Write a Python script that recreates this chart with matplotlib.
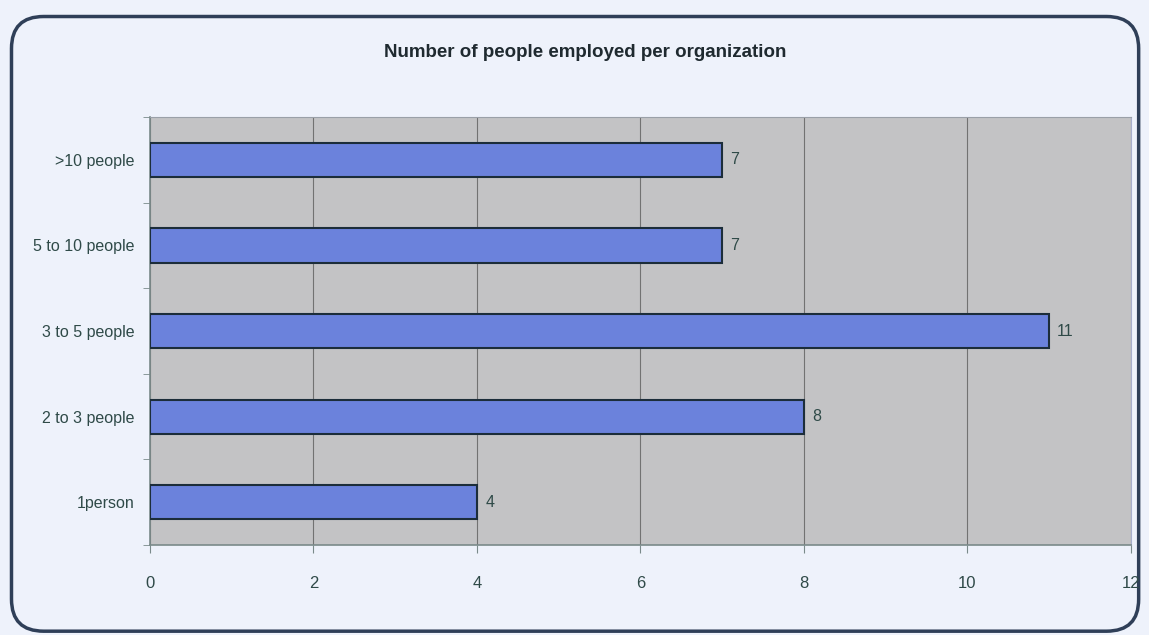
import matplotlib.pyplot as plt
from matplotlib.patches import FancyBboxPatch

categories = ["1person", "2 to 3 people", "3 to 5 people", "5 to 10 people", ">10 people"]
counts = [4, 8, 11, 7, 7]
x_ticks = [0, 2, 4, 6, 8, 10, 12]

plt.rcParams["font.family"] = ["Liberation Sans", "DejaVu Sans"]

fig = plt.figure(figsize=(11.49, 6.35), dpi=100)
fig.patch.set_facecolor("#eef2fb")

# rounded frame around the chart, kept behind the axes
frame = FancyBboxPatch((0.010, 0.006), 0.981, 0.968,
                       boxstyle="round,pad=0,rounding_size=0.028",
                       transform=fig.transFigure, facecolor="none",
                       edgecolor="#2f3f58", linewidth=2.5, mutation_aspect=1.8,
                       zorder=-1)
fig.patches.append(frame)

ax = fig.add_axes([0.1305, 0.1417, 0.8535, 0.674])
ax.set_facecolor("#c3c3c5")

y = range(len(categories))
bars = ax.barh(y, counts, height=0.4, color="#6b82dc", edgecolor="#1c2d3a", linewidth=1.5, zorder=3)

for b, v in zip(bars, counts):
    ax.annotate(str(v), (b.get_width(), b.get_y() + b.get_height() / 2),
                xytext=(6, 0), textcoords="offset points", va="center", ha="left",
                fontsize=11.5, color="#2f4a48")

ax.set_xlim(0, 12)
ax.set_ylim(-0.5, len(categories) - 0.5)
ax.set_xticks(x_ticks)
ax.set_xticklabels([str(t) for t in x_ticks])
ax.set_yticks(y)
ax.set_yticklabels(categories)
ax.set_yticks([i - 0.5 for i in range(len(categories) + 1)], minor=True)

ax.xaxis.grid(True, color="#727272", linewidth=0.8, zorder=1)
ax.set_axisbelow(True)
ax.tick_params(axis="y", which="major", length=0, pad=11, labelsize=11.5, labelcolor="#2f4a48")
ax.tick_params(axis="y", which="minor", length=5, direction="out", color="#7a8a8a")
ax.tick_params(axis="x", length=6, direction="out", color="#7a8a8a", pad=16,
               labelsize=12, labelcolor="#2f4a48")

for side in ["left", "bottom"]:
    ax.spines[side].set_color("#7a8a8a")
    ax.spines[side].set_linewidth(1.2)
ax.spines["top"].set_color("#9aa0a8")
ax.spines["right"].set_color("#a8aecc")

fig.text(0.509, 0.918, "Number of people employed per organization", ha="center", va="center",
         fontsize=13.5, fontweight="bold", color="#1f2a30")

fig.savefig("out.png", dpi=100, facecolor=fig.get_facecolor())
